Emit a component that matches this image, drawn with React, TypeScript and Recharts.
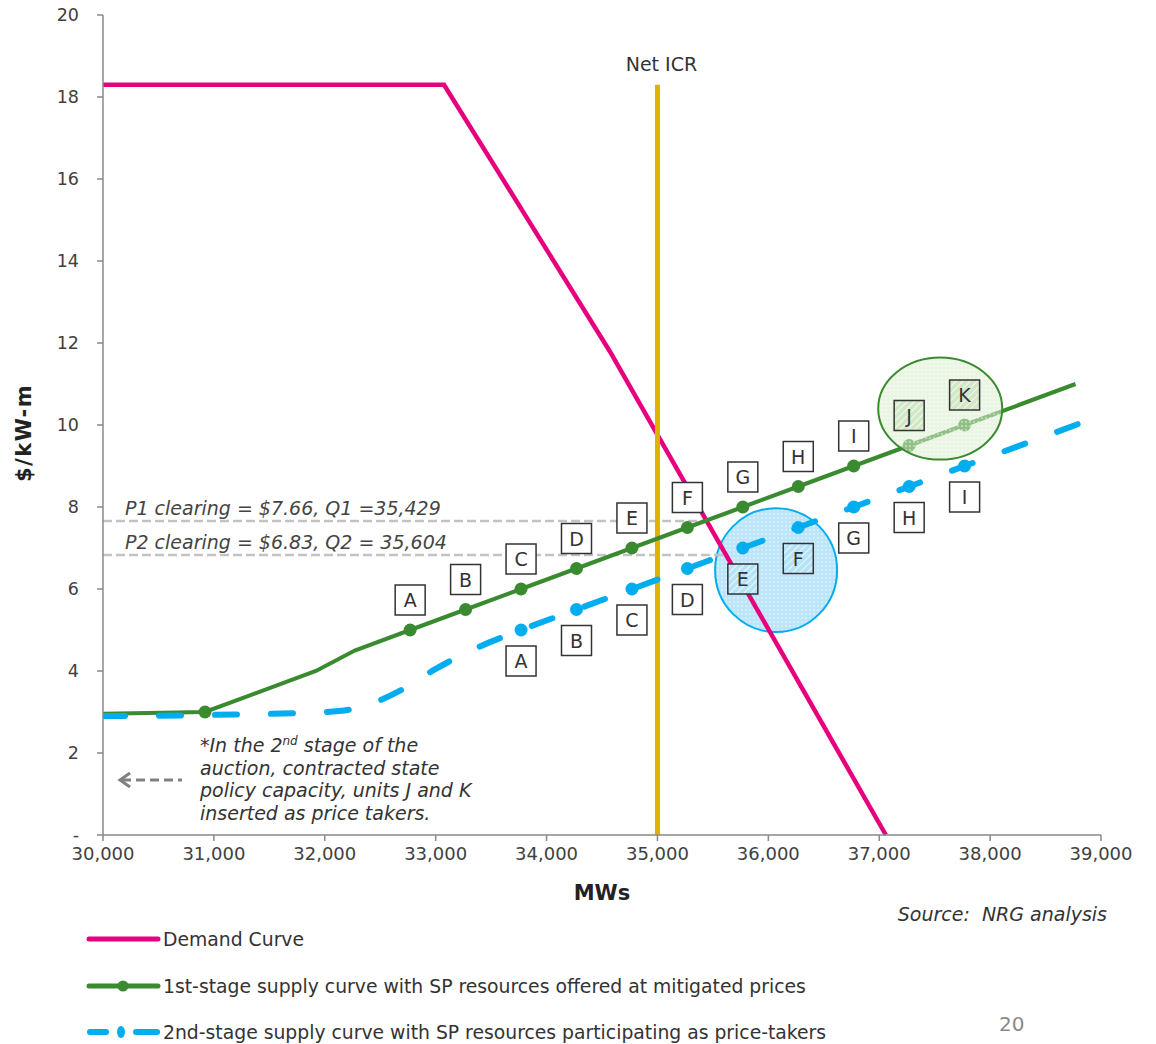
import React from "react";
import {
  LabelList,
  Line,
  LineChart,
  ReferenceArea,
  ReferenceLine,
  XAxis,
  YAxis,
} from "recharts";

const xTicks = [30000, 31000, 32000, 33000, 34000, 35000, 36000, 37000, 38000, 39000];
const yTicks = [0, 2, 4, 6, 8, 10, 12, 14, 16, 18, 20];

// demand curve
const demandMw = [30000, 33075, 34570, 37060];
const demandPrice = [18.3, 18.3, 11.8, 0];

// 1st stage supply (mitigated)
const stage1Mw = [30000, 30920, 31920, 32270, 32770, 33270, 33770, 34270, 34770, 35270, 35770, 36270, 36770, 37270, 37770, 38770];
const stage1Price = [2.96, 3.0, 4.0, 4.5, 5.0, 5.5, 6.0, 6.5, 7.0, 7.5, 8.0, 8.5, 9.0, 9.5, 10.0, 11.0];
const stage1Units = ["", "", "", "", "A", "B", "C", "D", "E", "F", "G", "H", "I", "J", "K", ""];
const stage1Dots = [false, true, false, false, true, true, true, true, true, true, true, true, true, true, true, false];

// 2nd stage supply (price takers)
const stage2Mw = [30000, 31000, 32000, 32300, 32700, 33000, 33400, 33770, 34270, 34770, 35270, 35770, 36270, 36770, 37270, 37770, 38870];
const stage2Price = [2.9, 2.93, 3.0, 3.1, 3.55, 4.05, 4.6, 5.0, 5.5, 6.0, 6.5, 7.0, 7.5, 8.0, 8.5, 9.0, 10.1];
const stage2Units = ["", "", "", "", "", "", "", "A", "B", "C", "D", "E", "F", "G", "H", "I", ""];

const hatched1 = ["J", "K"];
const hatched2 = ["E", "F"];

const clearingPrice = [7.66, 6.83];
const clearingMw = [35429, 35604];
const clearingText = ["P1 clearing = $7.66, Q1 =35,429", "P2 clearing = $6.83, Q2 = 35,604"];

const netIcrMw = 35000;
const netIcrTop = 18.3;

// highlight circles: 2nd stage (E, F) and 1st stage (J, K)
const blueCircleMw = [35520, 36620];
const blueCirclePrice = [4.95, 7.97];
const greenCircleMw = [37550];
const greenCirclePrice = [10.4];

const PINK = "#e6007e";
const GREEN = "#3a8a2f";
const BLUE = "#00aeef";
const GOLD = "#e2b100";
const FONT = "'DejaVu Sans', Verdana, sans-serif";

const demandRows = demandMw.map((mw, i) => ({ mw, price: demandPrice[i] }));
const stage1Rows = stage1Mw.map((mw, i) => ({ mw, price: stage1Price[i], unit: stage1Units[i] }));
const stage2Rows = stage2Mw.map((mw, i) => ({ mw, price: stage2Price[i], unit: stage2Units[i] }));
const greenCircleRows = greenCircleMw.map((mw, i) => ({ mw, price: greenCirclePrice[i] }));

function unitBox(props: any, below: boolean, hatched: string[], fillId: string) {
  const { x, y, value, index } = props;
  if (!value) return null;
  const cy = below ? y + 31 : y - 30;
  return (
    <g key={`box-${below ? "b" : "a"}-${index}`}>
      <rect
        x={x - 15}
        y={cy - 15}
        width={30}
        height={30}
        fill={hatched.includes(value) ? `url(#${fillId})` : "#fff"}
        stroke="#333"
        strokeWidth={1.5}
      />
      <text x={x} y={cy + 7} textAnchor="middle" fontSize={19} fill="#333" fontFamily={FONT}>
        {value}
      </text>
    </g>
  );
}

function clearingLabel(text: string) {
  return (props: any) => {
    const vb = props.viewBox;
    return (
      <text x={vb.x + 22} y={vb.y - 6} fontSize={19} fontStyle="italic" fill="#444" fontFamily={FONT}>
        {text}
      </text>
    );
  };
}

function XTick(props: any) {
  const { x, y, payload } = props;
  return (
    <text x={x} y={y} dy={17} textAnchor="middle" fontSize={18} fill="#404040" fontFamily={FONT}>
      {Number(payload.value).toLocaleString("en-US")}
    </text>
  );
}

function YTick(props: any) {
  const { y, payload } = props;
  return (
    <text x={79} y={y} dy={6} textAnchor="end" fontSize={17.5} fill="#404040" fontFamily={FONT}>
      {payload.value === 0 ? "-" : String(payload.value)}
    </text>
  );
}

function blueEllipse(p: any) {
  return (
    <ellipse
      cx={p.x + p.width / 2}
      cy={p.y + p.height / 2}
      rx={p.width / 2}
      ry={p.height / 2}
      fill="url(#blueDots)"
      stroke={BLUE}
      strokeWidth={2}
    />
  );
}

function greenEllipse(p: any) {
  return <ellipse key={`gc-${p.index}`} cx={p.cx} cy={p.cy} rx={62} ry={51} fill="url(#greenDots)" stroke={GREEN} strokeWidth={2} />;
}

export default function App() {
  return (
    <div style={{ position: "absolute", left: 0, top: 0, width: 1156, height: 1044, background: "#fff", fontFamily: FONT }}>
      <LineChart width={1156} height={1044} margin={{ top: 15, right: 55, left: 43, bottom: 179 }}>
        <defs>
          <pattern id="blueDots" width="4" height="4" patternUnits="userSpaceOnUse">
            <rect width="4" height="4" fill="#8fd3f5" fillOpacity="0.6" />
            <circle cx="2" cy="2" r="0.7" fill="#fff" />
          </pattern>
          <pattern id="greenDots" width="4" height="4" patternUnits="userSpaceOnUse">
            <rect width="4" height="4" fill="#d9ecce" fillOpacity="0.55" />
            <circle cx="2" cy="2" r="0.7" fill="#fff" />
          </pattern>
          <pattern id="blueHatch" width="5" height="5" patternUnits="userSpaceOnUse" patternTransform="rotate(45)">
            <rect width="5" height="5" fill="#b5e3f8" />
            <line x1="0" y1="0" x2="0" y2="5" stroke="#fff" strokeWidth="1.5" />
          </pattern>
          <pattern id="greenHatch" width="5" height="5" patternUnits="userSpaceOnUse" patternTransform="rotate(45)">
            <rect width="5" height="5" fill="#d3e8c6" />
            <line x1="0" y1="0" x2="0" y2="5" stroke="#fff" strokeWidth="1.5" />
          </pattern>
        </defs>
        <XAxis
          dataKey="mw"
          type="number"
          domain={[30000, 39000]}
          ticks={xTicks}
          allowDataOverflow
          height={30}
          tick={(p: any) => <XTick {...p} />}
          stroke="#8a8a8a"
          strokeWidth={1.5}
          tickSize={6}
        />
        <YAxis
          type="number"
          domain={[0, 20]}
          ticks={yTicks}
          width={60}
          tick={(p: any) => <YTick {...p} />}
          stroke="#8a8a8a"
          strokeWidth={1.5}
          tickSize={6}
        />
        <ReferenceArea
          x1={blueCircleMw[0]}
          x2={blueCircleMw[1]}
          y1={blueCirclePrice[0]}
          y2={blueCirclePrice[1]}
          shape={blueEllipse}
        />
        {clearingPrice.map((p, i) => (
          <ReferenceLine
            key={`clr-${i}`}
            segment={[{ x: 30000, y: p }, { x: clearingMw[i], y: p }]}
            stroke="#c3c3c3"
            strokeWidth={2.5}
            strokeDasharray="9 4"
            label={clearingLabel(clearingText[i])}
          />
        ))}
        <Line
          data={demandRows}
          dataKey="price"
          stroke={PINK}
          strokeWidth={4.5}
          dot={false}
          isAnimationActive={false}
          type="linear"
        />
        <ReferenceLine
          segment={[{ x: netIcrMw, y: 0 }, { x: netIcrMw, y: netIcrTop }]}
          stroke={GOLD}
          strokeWidth={5}
          label={(props: any) => (
            <text x={props.viewBox.x + 4} y={props.viewBox.y - 14} textAnchor="middle" fontSize={19} fill="#333" fontFamily={FONT}>
              Net ICR
            </text>
          )}
        />
        <Line
          data={stage1Rows}
          dataKey="price"
          stroke={GREEN}
          strokeWidth={4}
          type="linear"
          isAnimationActive={false}
          dot={(p: any) =>
            stage1Dots[p.index] ? (
              <circle key={`d1-${p.index}`} cx={p.cx} cy={p.cy} r={6.5} fill={GREEN} />
            ) : (
              <g key={`d1-${p.index}`} />
            )
          }
        >
          <LabelList dataKey="unit" content={(p: any) => unitBox(p, false, hatched1, "greenHatch")} />
        </Line>
        <Line
          data={greenCircleRows}
          dataKey="price"
          stroke="none"
          isAnimationActive={false}
          dot={greenEllipse}
          activeDot={false}
        />
        <Line
          data={stage2Rows}
          dataKey="price"
          stroke={BLUE}
          strokeWidth={6}
          strokeDasharray="22 34"
          strokeLinecap="round"
          type="monotone"
          isAnimationActive={false}
          dot={(p: any) =>
            stage2Units[p.index] ? (
              <circle key={`d2-${p.index}`} cx={p.cx} cy={p.cy} r={6.5} fill={BLUE} />
            ) : (
              <g key={`d2-${p.index}`} />
            )
          }
        >
          <LabelList dataKey="unit" content={(p: any) => unitBox(p, true, hatched2, "blueHatch")} />
        </Line>
      </LineChart>

      <div
        style={{
          position: "absolute",
          left: 24,
          top: 433,
          transform: "translate(-50%, -50%) rotate(-90deg)",
          fontWeight: "bold",
          fontSize: 21,
          letterSpacing: 1.5,
          color: "#222",
          whiteSpace: "nowrap",
        }}
      >
        $/kW-m
      </div>
      <div style={{ position: "absolute", left: 602, top: 893, transform: "translate(-50%, -50%)", fontWeight: "bold", fontSize: 21, color: "#222" }}>
        MWs
      </div>

      <svg style={{ position: "absolute", left: 110, top: 769 }} width={80} height={22}>
        <line x1={12} y1={11} x2={72} y2={11} stroke="#808080" strokeWidth={3} strokeDasharray="9 5" />
        <polyline points="20,4 10,11 20,18" fill="none" stroke="#808080" strokeWidth={3} />
      </svg>
      <div style={{ position: "absolute", left: 200, top: 734, fontSize: 19, fontStyle: "italic", color: "#333", lineHeight: "22.5px" }}>
        <div>
          *In the 2<sup style={{ fontSize: 12, verticalAlign: "super", lineHeight: 0 }}>nd</sup> stage of the
        </div>
        <div>auction, contracted state</div>
        <div>policy capacity, units J and K</div>
        <div>inserted as price takers.</div>
      </div>

      <div style={{ position: "absolute", right: 1156 - 1107, top: 903, fontSize: 19, fontStyle: "italic", color: "#333", whiteSpace: "pre" }}>
        {"Source:  NRG analysis"}
      </div>

      {[
        { y: 939, text: "Demand Curve", kind: "pink" },
        { y: 986, text: "1st-stage supply curve with SP resources offered at mitigated prices", kind: "green" },
        { y: 1032, text: "2nd-stage supply curve with SP resources participating as price-takers", kind: "blue" },
      ].map((row) => (
        <div key={row.kind} style={{ position: "absolute", left: 86, top: row.y - 12, height: 24, display: "flex", alignItems: "center" }}>
          <svg width={76} height={16}>
            {row.kind === "pink" && <line x1={3} y1={8} x2={72} y2={8} stroke={PINK} strokeWidth={5} strokeLinecap="round" />}
            {row.kind === "green" && (
              <g>
                <line x1={3} y1={8} x2={72} y2={8} stroke={GREEN} strokeWidth={5} strokeLinecap="round" />
                <circle cx={37} cy={8} r={5.5} fill={GREEN} />
              </g>
            )}
            {row.kind === "blue" && (
              <g>
                <line x1={4} y1={8} x2={20} y2={8} stroke={BLUE} strokeWidth={6} strokeLinecap="round" />
                <ellipse cx={35} cy={8} rx={4} ry={6} fill={BLUE} />
                <line x1={50} y1={8} x2={71} y2={8} stroke={BLUE} strokeWidth={6} strokeLinecap="round" />
              </g>
            )}
          </svg>
          <span style={{ fontSize: 18.8, color: "#333", marginLeft: 1, whiteSpace: "nowrap" }}>{row.text}</span>
        </div>
      ))}

      <div style={{ position: "absolute", left: 999, top: 1012, fontSize: 20, color: "#8a8a8a" }}>20</div>
    </div>
  );
}
